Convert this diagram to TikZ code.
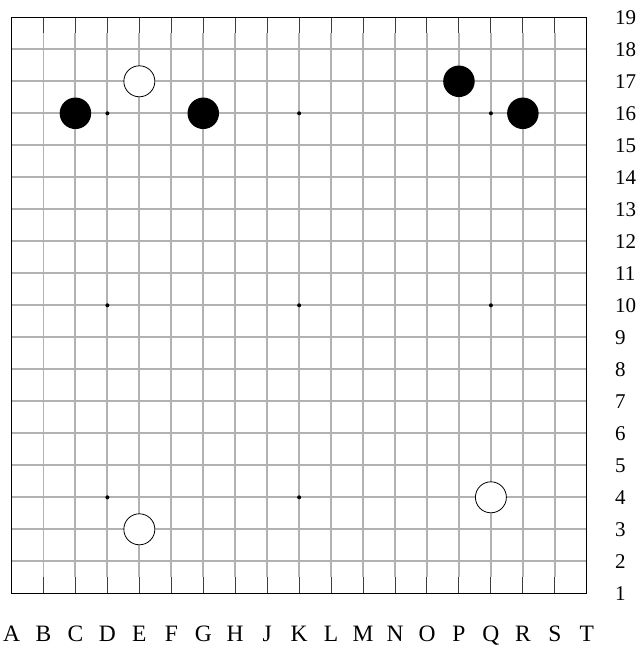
\documentclass[tikz,border=0pt]{standalone}
\usepackage{fontspec}
\setmainfont{Liberation Serif}
\begin{document}
\begin{tikzpicture}[x=1pt,y=-1pt,
  gridline/.style={line width=1.9pt,color={rgb,255:red,178;green,178;blue,178}},
  edgestub/.style={line width=1pt,color={rgb,255:red,60;green,60;blue,60}},
  border/.style={line width=1.1pt,black},
  blackstone/.style={circle,fill=black,inner sep=0pt,minimum size=31.5pt},
  whitestone/.style={circle,fill=white,draw=black,line width=0.8pt,inner sep=0pt,minimum size=31pt},
  hoshi/.style={circle,fill=black,inner sep=0pt,minimum size=4pt},
  rowlabel/.style={anchor=west,inner sep=0pt,font=\fontsize{21}{21}\selectfont},
  collabel/.style={anchor=base,inner sep=0pt,font=\fontsize{23.5}{23.5}\selectfont}]
\useasboundingbox (0,0) rectangle (644,650);
\fill[white] (0,0) rectangle (644,650);
\begin{scope}[shift={(11.5,17.3)},x=31.96pt,y=-32pt]
  % interior lines
  \foreach \i in {1,...,17} {
    \draw[gridline] (\i,0.5) -- (\i,17.5);
    \draw[edgestub] (\i,0) -- (\i,0.5);
    \draw[edgestub] (\i,17.5) -- (\i,18);
    \draw[gridline] (0,\i) -- (18,\i);
  }
  \draw[border] (0,0) rectangle (18,18);
  % star points
  \foreach \c/\cn in {3/D,9/K,15/Q} {
    \foreach \r/\rn in {3/16,9/10,15/4} {
      \node[hoshi] (hoshi\cn\rn) at (\c,\r) {};
    }
  }
  % stones
  \node[blackstone] (C16) at (2,3) {};
  \node[blackstone] (G16) at (6,3) {};
  \node[blackstone] (P17) at (14,2) {};
  \node[blackstone] (R16) at (16,3) {};
  \node[whitestone] (E17) at (4,2) {};
  \node[whitestone] (E3) at (4,16) {};
  \node[whitestone] (Q4) at (15,15) {};
  % column labels
  \foreach \c/\l in {0/A,1/B,2/C,3/D,4/E,5/F,6/G,7/H,8/J,9/K,10/L,11/M,12/N,13/O,14/P,15/Q,16/R,17/S,18/T} {
    \node[collabel] (col\l) at (\c,19.5) {\l};
  }
\end{scope}
% row labels
\foreach \r in {1,...,19} {
  \pgfmathsetmacro\yy{17.3+32*(19-\r)}
  \node[rowlabel] (row\r) at (615,\yy) {\r};
}
\end{tikzpicture}
\end{document}
